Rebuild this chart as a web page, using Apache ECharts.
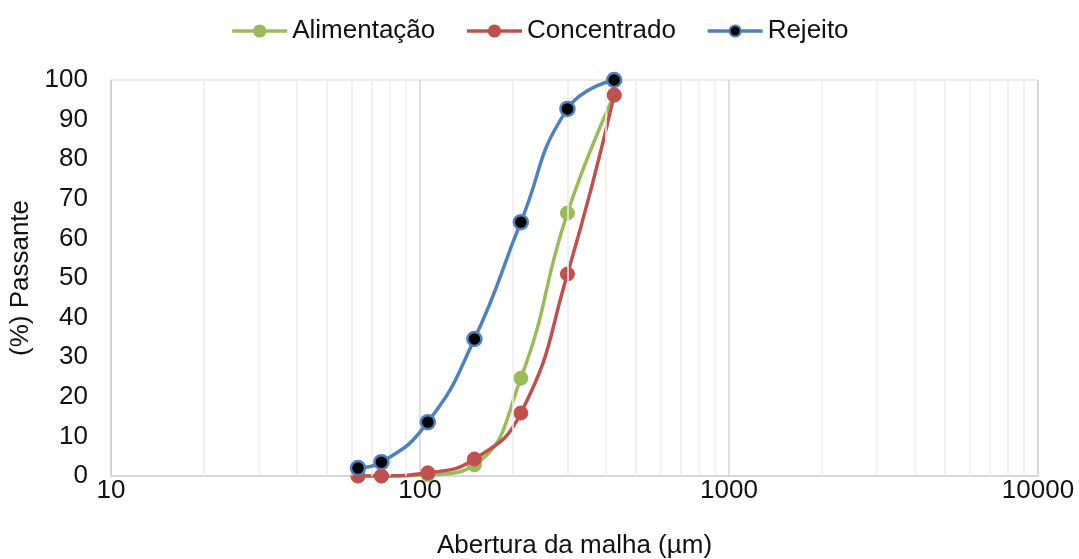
<!DOCTYPE html>
<html>
<head>
<meta charset="utf-8">
<script src="https://cdn.jsdelivr.net/npm/echarts@6/dist/echarts.min.js"></script>
<style>
html,body{margin:0;padding:0;background:#fff;}
#chart{width:1079px;height:559px;}
</style>
</head>
<body>
<div id="chart"></div>
<script>
// Data
const sieves = [63, 75, 106, 150, 212, 300, 425];
const alimentacao = [0, 0, 0.3, 2.8, 24.7, 66.4, 96.2];
const concentrado = [0, 0, 0.8, 4.3, 15.9, 51.0, 96.2];
const rejeito = [2.0, 3.5, 13.6, 34.6, 64.1, 92.7, 100];
const seriesNames = ['Alimentação', 'Concentrado', 'Rejeito'];
const xTickLabels = ['10', '100', '1000', '10000'];
const minorGrid = [20,30,40,50,60,70,80,90,200,300,400,500,600,700,800,900,2000,3000,4000,5000,6000,7000,8000,9000];

const pairs = (ys) => sieves.map((x, i) => [x, ys[i]]);
const FONT = 'Liberation Sans, Arial, sans-serif';
const FS = 26;
const LW = 3.5;

const chart = echarts.init(document.getElementById('chart'));
chart.setOption({
  animation: false,
  backgroundColor: '#fff',
  textStyle: { fontFamily: FONT },
  legend: {
    top: 13,
    left: 'center',
    itemWidth: 55,
    itemHeight: 14,
    itemGap: 30,
    lineStyle: { width: LW },
    textStyle: { fontSize: FS, color: '#111', fontFamily: FONT },
    data: seriesNames
  },
  grid: {
    left: 111, right: 41, top: 80, bottom: 83,
    outerBoundsMode: 'none', containLabel: false,
    show: true, borderColor: '#d9d9d9', borderWidth: 1
  },
  xAxis: {
    type: 'log', logBase: 10, min: 10, max: 10000,
    name: 'Abertura da malha (µm)',
    nameLocation: 'middle', nameGap: 57,
    nameTextStyle: { fontSize: FS, color: '#111', fontFamily: FONT },
    axisLine: { show: true, lineStyle: { color: '#d0d0d0', width: 1.5 } },
    axisTick: { show: false },
    axisLabel: {
      fontSize: FS, color: '#111', margin: 2, fontFamily: FONT,
      formatter: (v) => { const i = Math.round(Math.log10(v)) - 1; return xTickLabels[i] || ''; }
    },
    splitLine: { show: true, lineStyle: { color: '#d4d4d4', width: 1.5 } },
    minorTick: { show: false },
    minorSplitLine: { show: false }
  },
  yAxis: {
    type: 'value', min: 0, max: 100, interval: 10,
    name: '(%) Passante',
    nameLocation: 'middle', nameGap: 72, nameRotate: 90,
    nameTextStyle: { fontSize: FS, color: '#111', fontFamily: FONT },
    axisLine: { show: true, lineStyle: { color: '#d0d0d0' } },
    axisTick: { show: false },
    axisLabel: { fontSize: FS, color: '#111', margin: 23, fontFamily: FONT },
    splitLine: { show: false }
  },
  series: [
    {
      name: 'gridMinor', type: 'line', data: [], silent: true,
      markLine: {
        silent: true, symbol: 'none', label: { show: false },
        lineStyle: { color: '#ededed', width: 1.5, type: 'solid' },
        data: minorGrid.map(v => ({ xAxis: v }))
      }
    },
    {
      name: seriesNames[0], type: 'line', smooth: 0.5,
      data: pairs(alimentacao),
      symbol: 'circle', symbolSize: 14,
      lineStyle: { color: '#9BBB59', width: LW },
      itemStyle: { color: '#9BBB59', borderColor: '#9BBB59', borderWidth: 1 },
      z: 3
    },
    {
      name: seriesNames[1], type: 'line', smooth: 0.5,
      data: pairs(concentrado),
      symbol: 'circle', symbolSize: 14,
      lineStyle: { color: '#C0504D', width: LW },
      itemStyle: { color: '#C0504D', borderColor: '#C0504D', borderWidth: 1 },
      z: 4
    },
    {
      name: seriesNames[2], type: 'line', smooth: 0.5,
      data: pairs(rejeito),
      symbol: 'circle', symbolSize: 14,
      lineStyle: { color: '#4F81BD', width: LW },
      itemStyle: { color: '#000000', borderColor: '#4F81BD', borderWidth: 2.5 },
      z: 5
    }
  ]
});
</script>
</body>
</html>
